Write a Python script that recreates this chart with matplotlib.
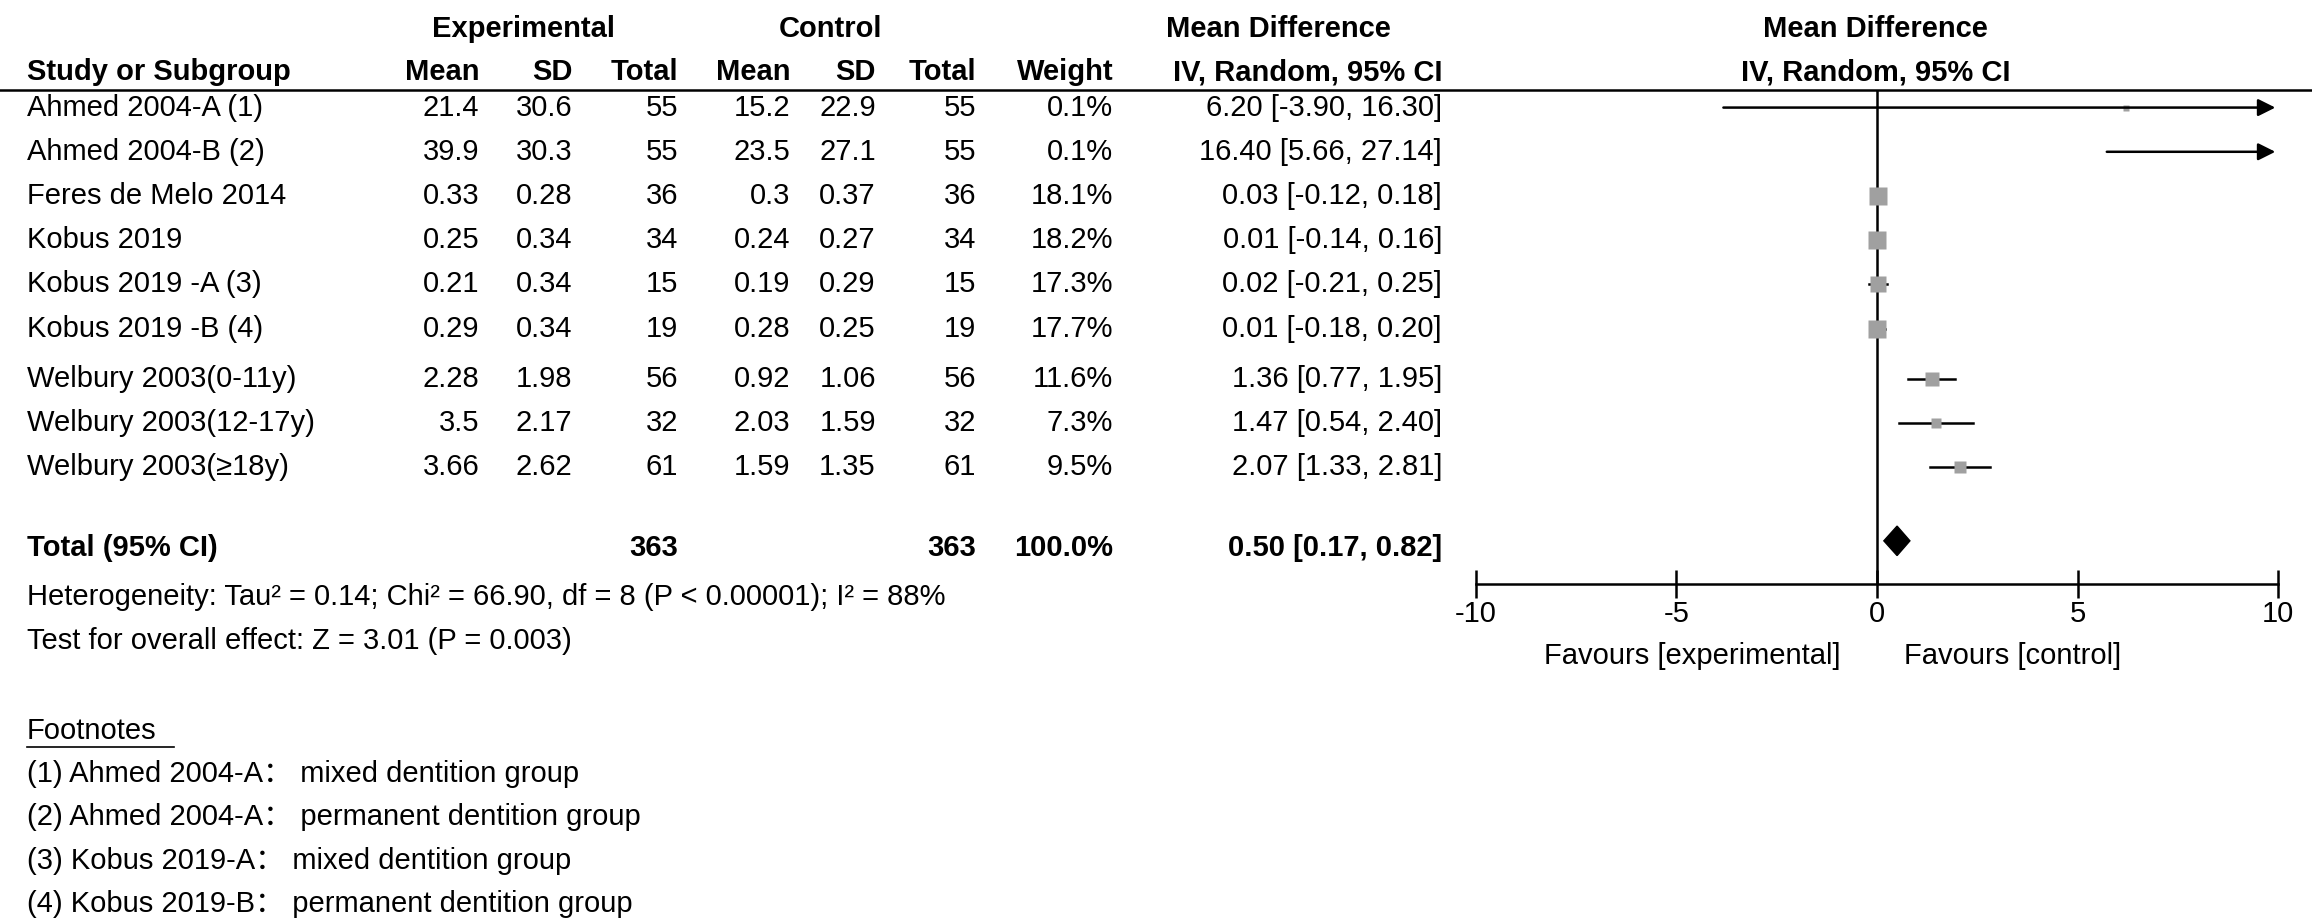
import matplotlib
matplotlib.use("Agg")
import matplotlib.pyplot as plt
from matplotlib.lines import Line2D

plt.rcParams['font.family'] = ['Liberation Sans', 'Noto Sans CJK SC', 'DejaVu Sans']
plt.rcParams['axes.unicode_minus'] = False

studies = ["Ahmed 2004-A (1)", "Ahmed 2004-B (2)", "Feres de Melo 2014", "Kobus 2019",
           "Kobus 2019 -A (3)", "Kobus 2019 -B (4)", "Welbury 2003(0-11y)",
           "Welbury 2003(12-17y)", "Welbury 2003(\u226518y)"]
exp_mean = ["21.4", "39.9", "0.33", "0.25", "0.21", "0.29", "2.28", "3.5", "3.66"]
exp_sd = ["30.6", "30.3", "0.28", "0.34", "0.34", "0.34", "1.98", "2.17", "2.62"]
exp_n = [55, 55, 36, 34, 15, 19, 56, 32, 61]
ctl_mean = ["15.2", "23.5", "0.3", "0.24", "0.19", "0.28", "0.92", "2.03", "1.59"]
ctl_sd = ["22.9", "27.1", "0.37", "0.27", "0.29", "0.25", "1.06", "1.59", "1.35"]
ctl_n = [55, 55, 36, 34, 15, 19, 56, 32, 61]
weight = [0.1, 0.1, 18.1, 18.2, 17.3, 17.7, 11.6, 7.3, 9.5]
md = [6.20, 16.40, 0.03, 0.01, 0.02, 0.01, 1.36, 1.47, 2.07]
lo = [-3.90, 5.66, -0.12, -0.14, -0.21, -0.18, 0.77, 0.54, 1.33]
hi = [16.30, 27.14, 0.18, 0.16, 0.25, 0.20, 1.95, 2.40, 2.81]
total_md, total_lo, total_hi = 0.50, 0.17, 0.82
footnotes = ["(1) Ahmed 2004-A\uff1a mixed dentition group",
             "(2) Ahmed 2004-A\uff1a permanent dentition group",
             "(3) Kobus 2019-A\uff1a mixed dentition group",
             "(4) Kobus 2019-B\uff1a permanent dentition group"]

W, H = 1568, 627   # layout units (reference scaled)
fig = plt.figure(figsize=(23.12, 9.24), dpi=100)
fs = 21
S = 2312/1568

def T(x, y, s, ha='left', bold=False, **kw):
    fig.text(x/W, 1-y/H, s, ha=ha, va='center', fontsize=fs,
             fontweight='bold' if bold else 'normal', **kw)

T(355, 20, "Experimental", 'center', True)
T(563, 20, "Control", 'center', True)
T(867, 20, "Mean Difference", 'center', True)
T(1272, 20, "Mean Difference", 'center', True)
T(18, 49, "Study or Subgroup", bold=True)
cols = [(325, "Mean"), (388, "SD"), (460, "Total"), (536, "Mean"), (594, "SD"),
        (662, "Total"), (755, "Weight")]
for x, s in cols:
    T(x, 49, s, 'right', True)
T(887, 49, "IV, Random, 95% CI", 'center', True)
T(1272, 49, "IV, Random, 95% CI", 'center', True)
fig.add_artist(Line2D([0, 1568/W], [1-61/H]*2, color='black', lw=1.8))

row_y = [73, 103, 133, 163, 193, 223, 257, 287, 317]
for i, y in enumerate(row_y):
    T(18, y, studies[i])
    vals = [exp_mean[i], exp_sd[i], str(exp_n[i]), ctl_mean[i], ctl_sd[i],
            str(ctl_n[i]), f"{weight[i]:.1f}%"]
    for (x, _), v in zip(cols, vals):
        T(x, y, v, 'right')
    T(978, y, f"{md[i]:.2f} [{lo[i]:.2f}, {hi[i]:.2f}]", 'right')

ty = 372
T(18, ty, "Total (95% CI)", bold=True)
T(460, ty, str(sum(exp_n)), 'right', True)
T(662, ty, str(sum(ctl_n)), 'right', True)
T(755, ty, "100.0%", 'right', True)
T(978, ty, f"{total_md:.2f} [{total_lo:.2f}, {total_hi:.2f}]", 'right', True)
T(18, 405, "Heterogeneity: Tau\u00b2 = 0.14; Chi\u00b2 = 66.90, df = 8 (P < 0.00001); I\u00b2 = 88%")
T(18, 435, "Test for overall effect: Z = 3.01 (P = 0.003)")
T(18, 496, "Footnotes")
fig.add_artist(Line2D([18/W, 118/W], [1-507/H]*2, color='black', lw=1.2))
for k, s in enumerate(footnotes):
    T(18, 525 + 29.5*k, s)

ax = fig.add_axes([1001/W, 1-396/H, 544/W, 335/H])
ax.set_xlim(-10, 10)
ax.set_ylim(396, 61)
for sp in ['left', 'right', 'top']:
    ax.spines[sp].set_visible(False)
ax.spines['bottom'].set_linewidth(1.8)
ax.set_yticks([])
ax.set_xticks([-10, -5, 0, 5, 10])
ax.tick_params(axis='x', direction='inout', length=20, labelsize=fs, pad=2, width=1.8)
ax.axvline(0, color='black', lw=1.8)
for i, y in enumerate(row_y):
    l, h = max(lo[i], -10), min(hi[i], 10)
    if hi[i] > 10:
        ax.annotate("", xy=(10, y), xytext=(l, y),
                    arrowprops=dict(arrowstyle='-|>', color='black', lw=1.8,
                                    mutation_scale=26), annotation_clip=False)
    else:
        ax.plot([l, h], [y, y], color='black', lw=1.8)
    if md[i] <= 10:
        sz = (3 + 0.3*weight[i]) * S
        ax.plot(md[i], y, 's', color='#a0a0a0', ms=sz, mec='none')
ax.fill([total_lo, total_md, total_hi, total_md], [367, 357, 367, 377], color='black')
T(1148, 445, "Favours [experimental]", 'center')
T(1365, 445, "Favours [control]", 'center')

fig.savefig("out.png", dpi=100)
